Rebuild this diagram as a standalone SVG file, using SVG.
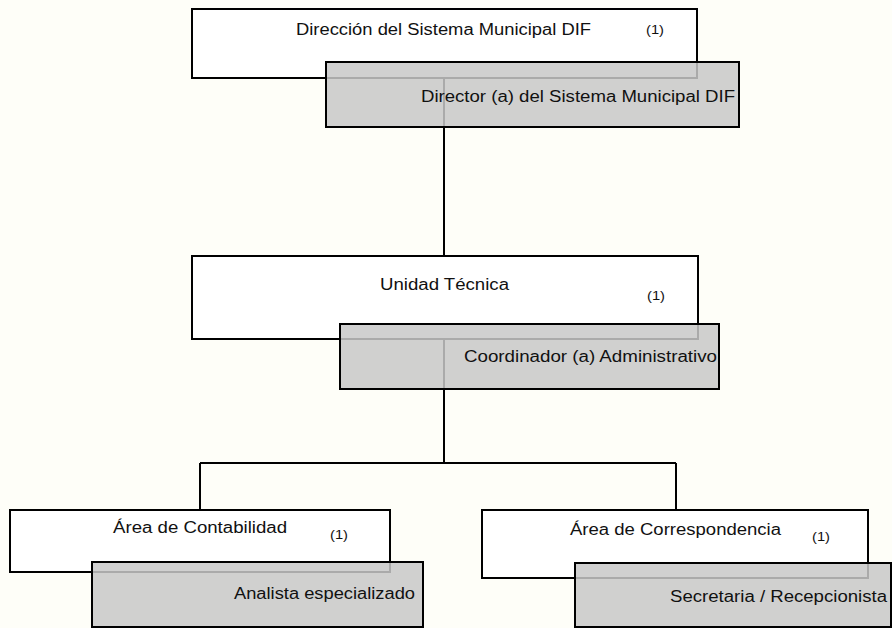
<svg xmlns="http://www.w3.org/2000/svg" width="892" height="628" viewBox="0 0 892 628">
<style>
.bg{fill:#fefef8}
.w{fill:#ffffff;stroke:#000;stroke-width:2}
.g{fill:#c8c8c8;fill-opacity:0.85;stroke:#000;stroke-width:2}
.c{fill:none;stroke:#000;stroke-width:2}
text{font-family:"Liberation Sans",Arial,sans-serif;fill:#111}
.t{font-size:16px}
.n{font-size:13px}
</style>
<rect class="bg" x="0" y="0" width="892" height="628"/>
<g id="connectors">
<path class="c" d="M444,79 V256 M444,339 V463 M200,463 H676 M200,463 V510 M676,463 V510"/>
</g>
<g id="node-direccion">
<rect class="w" x="192" y="9" width="505" height="69"/>
<text class="t" x="296" y="35" textLength="295" lengthAdjust="spacingAndGlyphs">Dirección del Sistema Municipal DIF</text>
<text class="n" x="646" y="34" textLength="18" lengthAdjust="spacingAndGlyphs">(1)</text>
<rect class="g" x="326" y="62" width="413" height="65"/>
<text class="t" x="421" y="102" textLength="314" lengthAdjust="spacingAndGlyphs">Director (a) del Sistema Municipal DIF</text>
</g>
<g id="node-unidad">
<rect class="w" x="192" y="256" width="506" height="83"/>
<text class="t" x="380" y="290" textLength="129" lengthAdjust="spacingAndGlyphs">Unidad Técnica</text>
<text class="n" x="647" y="300" textLength="18" lengthAdjust="spacingAndGlyphs">(1)</text>
<rect class="g" x="340" y="324" width="379" height="65"/>
<text class="t" x="464" y="362" textLength="253" lengthAdjust="spacingAndGlyphs">Coordinador (a) Administrativo</text>
</g>
<g id="node-contabilidad">
<rect class="w" x="10" y="510" width="380" height="62"/>
<text class="t" x="113" y="533" textLength="174" lengthAdjust="spacingAndGlyphs">Área de Contabilidad</text>
<text class="n" x="330" y="539" textLength="18" lengthAdjust="spacingAndGlyphs">(1)</text>
<rect class="g" x="92" y="562" width="331" height="65"/>
<text class="t" x="234" y="599" textLength="181" lengthAdjust="spacingAndGlyphs">Analista especializado</text>
</g>
<g id="node-correspondencia">
<rect class="w" x="482" y="510" width="386" height="68"/>
<text class="t" x="570" y="535" textLength="211" lengthAdjust="spacingAndGlyphs">Área de Correspondencia</text>
<text class="n" x="812" y="541" textLength="18" lengthAdjust="spacingAndGlyphs">(1)</text>
<rect class="g" x="575" y="563" width="316" height="64"/>
<text class="t" x="670" y="602" textLength="217" lengthAdjust="spacingAndGlyphs">Secretaria / Recepcionista</text>
</g>
</svg>
